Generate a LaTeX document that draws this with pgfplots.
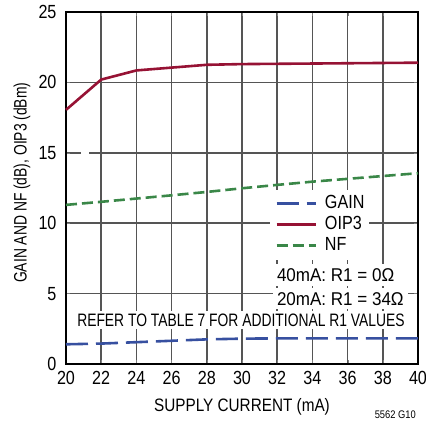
\documentclass[border=0pt]{standalone}
\usepackage{pgfplots}
\pgfplotsset{compat=1.18}
\usepackage{fontspec}
\setmainfont[FakeStretch=0.85]{Liberation Sans}
\newfontfamily\narrowfont[FakeStretch=0.77]{Liberation Sans}
\newfontfamily\notefont[FakeStretch=0.92]{Liberation Sans}

\definecolor{oipred}{RGB}{150,18,52}
\definecolor{nfgreen}{RGB}{58,135,72}
\definecolor{gainblue}{RGB}{55,80,160}
\definecolor{gridgray}{RGB}{85,85,85}

\pgfplotstableread{
x gain oip3 nf
20 1.40 18.05 11.30
22 1.45 20.20 11.52
24 1.55 20.85 11.75
26 1.65 21.05 11.98
28 1.75 21.25 12.22
30 1.80 21.30 12.48
32 1.82 21.32 12.72
34 1.82 21.34 12.95
36 1.82 21.36 13.15
38 1.82 21.38 13.35
40 1.82 21.40 13.55
}\datatable

\begin{document}
\begin{tikzpicture}
\begin{axis}[
  scale only axis, width=352pt, height=352pt,
  xmin=20, xmax=40, ymin=0, ymax=25,
  xtick={20,22,...,40}, ytick={0,5,...,25},
  xmajorgrids, ymajorgrids,
  grid style={draw=gridgray, line width=1.5pt},
  axis line style={line width=1.5pt},
  tick label style={font=\fontsize{19}{21}\selectfont},
  yticklabel style={xshift=-6pt},
  xticklabel style={yshift=-4pt},
  /pgf/number format/assume math mode=true,
  xlabel={SUPPLY CURRENT (mA)},
  ylabel={GAIN AND NF (dB), OIP3 (dBm)},
  xlabel style={font=\fontsize{18}{20}\selectfont, at={(axis description cs:0.5,-0.122)}, anchor=center},
  ylabel style={font=\fontsize{18}{20}\selectfont\narrowfont, at={(axis description cs:-0.125,0.515)}, anchor=center},
  clip=false,
  legend cell align=left,
  legend image code/.code={\draw[#1] (0pt,0pt) -- (39pt,0pt);},
  legend style={at={(axis cs:31.6,12.4)}, anchor=north west, fill=white, draw=none,
    font=\fontsize{19}{21}\selectfont, row sep=3pt, inner sep=5pt,
    nodes={inner sep=0pt, text height=14pt, text depth=4pt}},
]
\addplot[gainblue, line width=2.6pt, dash pattern=on 22pt off 8pt] table[x=x, y=gain] {\datatable};
\addlegendentry{\hspace{8pt}GAIN}
\addplot[oipred, line width=2.6pt] table[x=x, y=oip3] {\datatable};
\addlegendentry{\hspace{8pt}OIP3}
\addplot[nfgreen, line width=2.6pt, dash pattern=on 11pt off 5pt] table[x=x, y=nf] {\datatable};
\addlegendentry{\hspace{8pt}NF}

% small break in the 15 grid line
\fill[white] (axis cs:20.85,14.8) rectangle (axis cs:21.31,15.2);

\node[anchor=west, fill=white, inner sep=4pt, font=\fontsize{18.5}{20}\selectfont\notefont] at (axis cs:31.75,6.32) {40mA: R1 = 0Ω};
\node[anchor=west, fill=white, inner sep=4pt, font=\fontsize{18.5}{20}\selectfont\notefont] at (axis cs:31.75,4.62) {20mA: R1 = 34Ω};
\node[anchor=center, fill=white, inner sep=3pt, font=\fontsize{18}{20}\selectfont\narrowfont] at (axis cs:29.94,3.13) {REFER TO TABLE 7 FOR ADDITIONAL R1 VALUES};
\node[anchor=east, inner sep=0pt, font=\fontsize{11}{12}\selectfont] at (axis cs:39.89,-3.62) {5562 G10};
\end{axis}
\pgfresetboundingbox
\useasboundingbox (-66pt,-59pt) rectangle (360pt,364pt);
\end{tikzpicture}
\end{document}
